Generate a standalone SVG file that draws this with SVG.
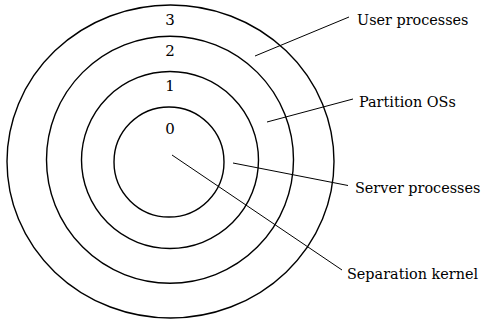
<svg xmlns="http://www.w3.org/2000/svg" width="485" height="320" viewBox="0 0 485 320">
<style>
.ring{fill:none;stroke:#000;stroke-width:1.4}
.lead{fill:none;stroke:#000;stroke-width:1}
text{font-family:"DejaVu Serif","Liberation Serif",serif;font-size:14.4px;fill:#000}
.num{text-anchor:middle;font-size:15px}
</style>
<rect width="485" height="320" fill="#fff"/>
<g id="ring3"><ellipse class="ring" cx="170.5" cy="161.5" rx="163.5" ry="156.5"/><text class="num" x="170" y="25">3</text></g>
<g id="ring2"><circle class="ring" cx="170" cy="159.7" r="123.5"/><text class="num" x="170" y="56">2</text></g>
<g id="ring1"><circle class="ring" cx="170" cy="160" r="88.5"/><text class="num" x="170" y="91">1</text></g>
<g id="ring0"><circle class="ring" cx="169" cy="162" r="55"/><text class="num" x="170" y="134">0</text></g>
<g id="connectors">
<line class="lead" x1="255" y1="56" x2="349" y2="17"/>
<line class="lead" x1="267" y1="122" x2="353" y2="99"/>
<line class="lead" x1="233" y1="163" x2="348" y2="185.5"/>
<line class="lead" x1="172" y1="155" x2="342" y2="270"/>
</g>
<g id="label-user"><text x="357" y="25">User processes</text></g>
<g id="label-partition"><text x="359" y="107">Partition OSs</text></g>
<g id="label-server"><text x="355" y="193">Server processes</text></g>
<g id="label-kernel"><text x="347" y="278.5">Separation kernel</text></g>
</svg>
